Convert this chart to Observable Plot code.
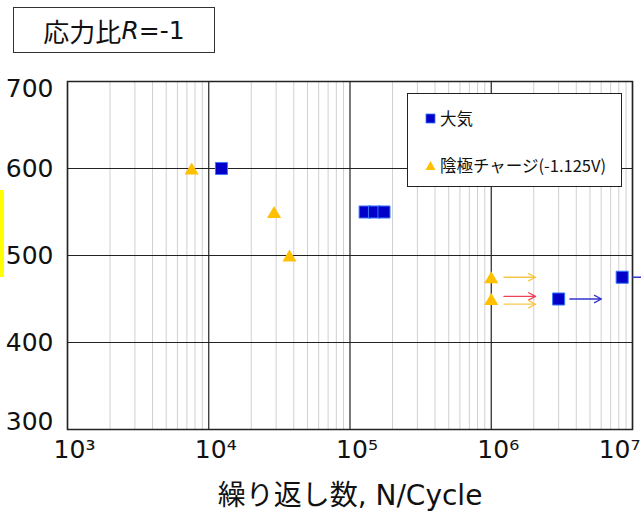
<!DOCTYPE html>
<html>
<head>
<meta charset="utf-8">
<script src="https://cdn.jsdelivr.net/npm/d3@7"></script>
<script src="https://cdn.jsdelivr.net/npm/@observablehq/plot@0.6"></script>
<style>
  body { margin: 0; background: #fff; }
  #wrap { position: relative; width: 641px; height: 522px; overflow: hidden; background: #fff;
          font-family: "DejaVu Sans", "Noto Sans CJK JP", sans-serif; }
  #title { position: absolute; left: 13px; top: 7px; width: 202px; height: 46px; box-sizing: border-box;
           border: 1.5px solid #333; display: flex; align-items: center; justify-content: center;
           font-family: "Noto Sans CJK JP", sans-serif; font-size: 26px; color: #111; background: #fff; }
  #title i { font-family: "DejaVu Sans", sans-serif; font-size: 25px; }
  #title span.l { font-family: "DejaVu Sans", sans-serif; font-size: 25px; }
  #legend { position: absolute; left: 407px; top: 93px; width: 215px; height: 94px; box-sizing: border-box;
            border: 1px solid #222; background: #fff; font-family: "Noto Sans CJK JP", sans-serif;
            font-size: 16.5px; color: #111; }
  #legend .item { position: absolute; left: 17px; display: flex; align-items: center; height: 20px; }
  #legend .item svg { margin-right: 4px; }
  #mark { position: absolute; left: 0; top: 190px; width: 4px; height: 87px; background: #ffff00; }
</style>
</head>
<body>
<div id="wrap"></div>
<script>
// ---- data ----
const seriesNames = ["大気", "陰極チャージ(-1.125V)"];
const airN = [1.23e4, 1.28e5, 1.49e5, 1.74e5, 3.0e6, 8.45e6];
const airS = [600, 550, 550, 550, 450, 475];
const chargeN = [7.57e3, 2.9e4, 3.73e4, 1.0e6, 1.0e6];
const chargeS = [600, 550, 500, 475, 450];
// run-out arrows (start N, end N, stress, group)
const arrowN1 = [1.23e6, 1.23e6, 1.23e6, 3.6e6, 1.0e7];
const arrowN2 = [2.06e6, 2.06e6, 2.06e6, 6.03e6, 1.6e7];
const arrowS = [475, 453, 444, 450, 475];
const arrowGroup = ["charge", "red", "charge", "air", "air"];
const xTicks = [1e3, 1e4, 1e5, 1e6, 1e7];
const xTickLabels = ["10³", "10⁴", "10⁵", "10⁶", "10⁷"];
const yTicks = [300, 400, 500, 600, 700];
const xLabel = "繰り返し数, N/Cycle";
const titleParts = ["応力比", "R", "=-1"];

// ---- styles ----
const airFill = "#0000c8", airStroke = "#3a78ff", chargeFill = "#ffc000";
const arrowColors = {charge: "#f7c748", red: "#ee4258", air: "#3535cc"};

const air = airN.map((n, i) => ({n, s: airS[i]}));
const charge = chargeN.map((n, i) => ({n, s: chargeS[i]}));
const arrows = arrowN1.map((n1, i) => ({n1, n2: arrowN2[i], s: arrowS[i], g: arrowGroup[i]}));
const minorTicks = [];
for (let e = 3; e < 7; e++) for (let m = 2; m <= 9; m++) minorTicks.push(m * Math.pow(10, e));
const tickData = xTicks.map((v, i) => ({v, label: xTickLabels[i]}));

const chart = Plot.plot({
  width: 641,
  height: 522,
  marginLeft: 67,
  marginRight: 9,
  marginTop: 81,
  marginBottom: 93,
  style: {fontFamily: "DejaVu Sans, sans-serif", background: "#fff", overflow: "visible"},
  x: {type: "log", domain: [1e3, 1e7], axis: null},
  y: {domain: [300, 700], axis: null},
  marks: [
    Plot.ruleX(minorTicks, {stroke: "#d0d0d0", strokeWidth: 1}),
    Plot.ruleX(xTicks, {stroke: "#222", strokeWidth: 1.2}),
    Plot.ruleY(yTicks, {stroke: "#222", strokeWidth: 1.2}),
    Plot.frame({stroke: "#222", strokeWidth: 1.5}),
    Plot.arrow(arrows, {x1: "n1", x2: "n2", y1: "s", y2: "s", bend: 0, headLength: 9, headAngle: 55,
      stroke: d => arrowColors[d.g], strokeWidth: 1.3}),
    Plot.dot(charge, {x: "n", y: "s", symbol: "triangle", r: 5.2, fill: chargeFill, dy: 2}),
    Plot.dot(air, {x: "n", y: "s", symbol: "square", r: 6.8, fill: airFill, stroke: airStroke, strokeWidth: 1}),
    // x tick labels
    Plot.text(tickData.slice(0, -1), {x: "v", text: "label", frameAnchor: "bottom", dy: 28, dx: 7,
      fontSize: 25, fill: "#111", textAnchor: "middle"}),
    Plot.text(tickData.slice(-1), {x: "v", text: "label", frameAnchor: "bottom", dy: 28, dx: 8,
      fontSize: 25, fill: "#111", textAnchor: "end"}),
    // y tick labels
    Plot.text(yTicks.filter(v => v > 300 && v < 700), {y: d => d, text: d => String(d), frameAnchor: "left",
      dx: -14, textAnchor: "end", fontSize: 25, fill: "#111"}),
    Plot.text(yTicks.filter(v => v === 700), {y: d => d, text: d => String(d), frameAnchor: "left",
      dx: -14, dy: 7, textAnchor: "end", fontSize: 25, fill: "#111"}),
    Plot.text(yTicks.filter(v => v === 300), {y: d => d, text: d => String(d), frameAnchor: "left",
      dx: -14, dy: -8, textAnchor: "end", fontSize: 25, fill: "#111"}),
    // x axis label
    Plot.text([xLabel], {text: d => d, frameAnchor: "bottom", dy: 75, fontSize: 28, fill: "#111",
      fontFamily: "DejaVu Sans, Noto Sans CJK JP, sans-serif"})
  ]
});

const wrap = document.getElementById("wrap");
wrap.appendChild(chart);

const mark = document.createElement("div");
mark.id = "mark";
wrap.appendChild(mark);

const title = document.createElement("div");
title.id = "title";
title.innerHTML = `${titleParts[0]}<i>${titleParts[1]}</i><span class="l">${titleParts[2]}</span>`;
wrap.appendChild(title);

const legend = document.createElement("div");
legend.id = "legend";
const sq = `<svg width="11" height="11"><rect x="1" y="1" width="9" height="9" fill="${airFill}" stroke="${airStroke}" stroke-width="0.8"/></svg>`;
const tri = `<svg width="11" height="11"><polygon points="5.5,1 10.5,10 0.5,10" fill="${chargeFill}"/></svg>`;
legend.innerHTML = `<div class="item" style="top:14px">${sq}<span>${seriesNames[0]}</span></div>` +
  `<div class="item" style="top:61px">${tri}<span>${seriesNames[1]}</span></div>`;
wrap.appendChild(legend);
</script>
</body>
</html>
